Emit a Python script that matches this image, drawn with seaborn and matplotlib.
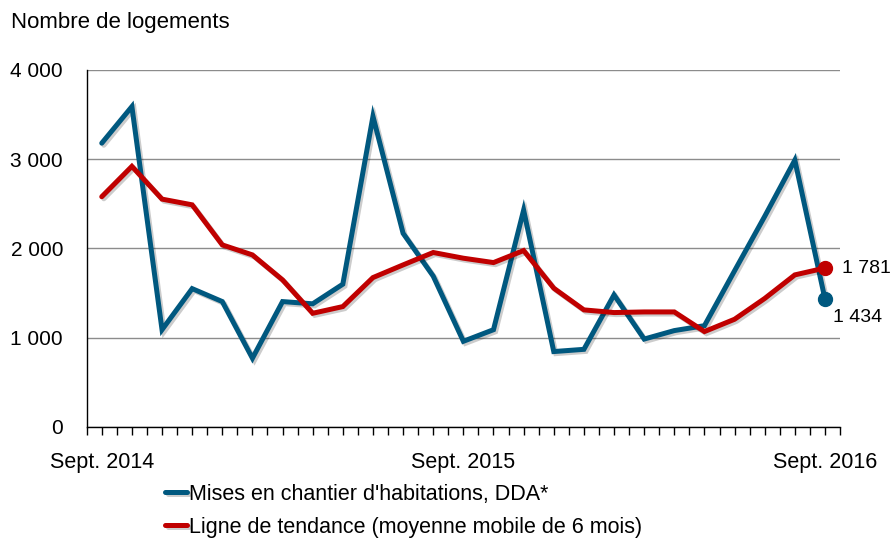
import matplotlib
matplotlib.use('Agg')
import matplotlib.pyplot as plt
import matplotlib.patheffects as pe
from matplotlib.ticker import FuncFormatter
import seaborn as sns
import pandas as pd

# monthly data, Sept. 2014 -> Sept. 2016
months = list(range(25))
tick_labels = {0: 'Sept. 2014', 12: 'Sept. 2015', 24: 'Sept. 2016'}
mises_en_chantier = [3180, 3590, 1090, 1550, 1405, 770, 1405, 1380, 1600, 3480,
                     2170, 1690, 960, 1090, 2430, 845, 870, 1480, 985, 1080,
                     1135, 1750, 2360, 2990, 1434]
tendance = [2580, 2920, 2553, 2489, 2040, 1928, 1648, 1274, 1349, 1674,
            1816, 1955, 1891, 1842, 1977, 1555, 1312, 1282, 1289, 1289,
            1069, 1207, 1440, 1704, 1781]

label_blue = "Mises en chantier d'habitations, DDA*"
label_red = "Ligne de tendance (moyenne mobile de 6 mois)"
blue = '#00587f'
red = '#c00000'

df = pd.DataFrame({
    'mois': months * 2,
    'valeur': mises_en_chantier + tendance,
    'serie': [label_blue] * 25 + [label_red] * 25,
})

sns.set_style('white')
plt.rcParams['font.family'] = ['Liberation Sans', 'DejaVu Sans']
plt.rcParams['text.color'] = 'black'
plt.rcParams['xtick.color'] = 'black'
plt.rcParams['ytick.color'] = 'black'

fig = plt.figure(figsize=(8.91, 5.4), dpi=100)
ax = fig.add_axes([0.0973, 0.2093, 0.8455, 0.6611])

shadow = [pe.SimpleLineShadow(offset=(1.5, -1.5), shadow_color='black', alpha=0.2), pe.Normal()]
sns.lineplot(data=df, x='mois', y='valeur', hue='serie', palette=[blue, red],
             linewidth=3.6, ax=ax, legend=True)
for line in ax.lines:
    line.set_path_effects(shadow)
    line.set_solid_joinstyle('miter')

# end markers and labels
ax.plot(months[-1], mises_en_chantier[-1], 'o', color=blue, markersize=10, zorder=5)
ax.plot(months[-1], tendance[-1], 'o', color=red, markersize=10, zorder=5)
fmt = lambda v: f'{int(v):,}'.replace(',', ' ')
ax.annotate(fmt(tendance[-1]), (months[-1], tendance[-1]), xytext=(12, 0),
            textcoords='offset points', va='center', ha='left', fontsize=14, annotation_clip=False)
ax.annotate(fmt(mises_en_chantier[-1]), (months[-1], mises_en_chantier[-1]), xytext=(6, -13),
            textcoords='offset points', va='center', ha='left', fontsize=14, annotation_clip=False)

ax.set_xlim(-0.5, 24.5)
ax.set_ylim(0, 4000)
ax.set_yticks([0, 1000, 2000, 3000, 4000])
ax.yaxis.set_major_formatter(FuncFormatter(lambda v, p: fmt(v)))
ax.set_xticks(list(tick_labels.keys()))
ax.set_xticklabels(list(tick_labels.values()))
ax.set_xticks([i / 2 - 0.5 for i in range(51)], minor=True)
ax.tick_params(axis='x', which='both', direction='out', length=6, width=1, color='black',
               bottom=True, labelsize=15.5, pad=12)
ax.tick_params(axis='y', length=0, labelsize=15, pad=17)
ax.yaxis.grid(True, color='#8c8c8c', linewidth=1)
ax.set_axisbelow(True)
for s in ['top', 'right']:
    ax.spines[s].set_visible(False)
for s in ['left', 'bottom']:
    ax.spines[s].set_color('black')
    ax.spines[s].set_linewidth(1)
ax.set_xlabel('')
ax.set_ylabel('')

fig.text(0.012, 0.958, 'Nombre de logements', fontsize=16, va='center', ha='left')

handles, labels = ax.get_legend_handles_labels()
ax.get_legend().remove()
fig.legend(handles[:2], labels[:2], loc='upper left', bbox_to_anchor=(0.176, 0.12),
           frameon=False, fontsize=15.5, handlelength=1.0, handletextpad=0.1,
           labelspacing=0.55, borderaxespad=0)

fig.savefig('out.png', dpi=100)
